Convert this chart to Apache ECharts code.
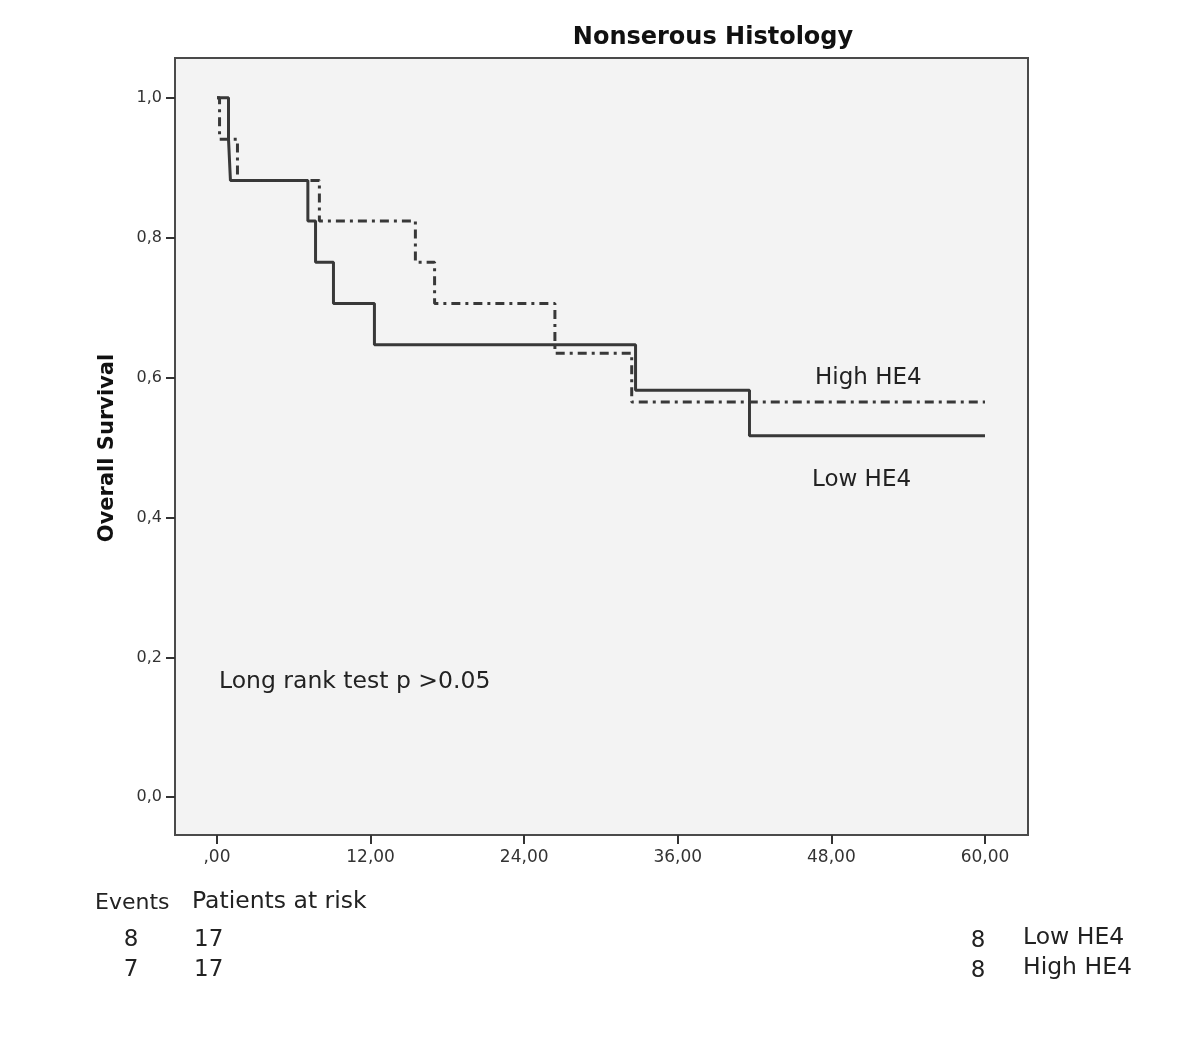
<!DOCTYPE html>
<html>
<head>
<meta charset="utf-8">
<script src="https://cdn.jsdelivr.net/npm/echarts@6.0.0/dist/echarts.min.js"></script>
<style>html,body{margin:0;padding:0;background:#fff;}#c{width:1200px;height:1041px;}</style>
</head>
<body>
<div id="c"></div>
<script>
// ---- data ----
const title = 'Nonserous Histology';
const yAxisName = 'Overall Survival';
const xTicks = [0, 12, 24, 36, 48, 60];
const xTickLabels = [',00', '12,00', '24,00', '36,00', '48,00', '60,00'];
const yTicks = [0, 0.2, 0.4, 0.6, 0.8, 1.0];
const yTickLabels = ['0,0', '0,2', '0,4', '0,6', '0,8', '1,0'];
const groups = ['Low HE4', 'High HE4'];
// [month, survival] after each event
const lowHE4 = [[0,1],[0.9,0.941],[1.05,0.882],[7.1,0.824],[7.7,0.765],[9.1,0.706],[12.3,0.647],[32.7,0.582],[41.6,0.517],[60,0.517]];
const highHE4 = [[0,1],[0.2,0.941],[1.6,0.882],[8.0,0.824],[15.5,0.765],[17.0,0.706],[26.4,0.635],[32.4,0.565],[60,0.565]];
const events = [8, 7];
const atRisk = [17, 17];
const censored = [8, 8];
const pText = 'Long rank test p >0.05';

const FONT = 'DejaVu Sans';
const chart = echarts.init(document.getElementById('c'), null, {renderer: 'canvas'});

function lookup(ticks, labels, v) {
  for (let i = 0; i < ticks.length; i++) if (Math.abs(ticks[i] - v) < 1e-6) return labels[i];
  return '';
}

function T(x, y, text, size, extra) {
  return {type: 'text', x: x, y: y, style: Object.assign({text: text, fontFamily: FONT, fontSize: size, fill: '#222', verticalAlign: 'middle'}, extra || {})};
}

const graphics = [
  T(713, 38, title, 24, {fontWeight: 'bold', fill: '#111', align: 'center'}),
  Object.assign(T(108, 448, yAxisName, 21, {fontWeight: 'bold', fill: '#111', align: 'center'}), {rotation: Math.PI / 2}),
  T(815, 378, groups[1], 23),
  T(812, 480, groups[0], 23),
  T(219, 682, pText, 23.5),
  T(95, 903, 'Events', 22),
  T(192, 902, 'Patients at risk', 23.5)
];
const rowY = [940, 970];
for (let i = 0; i < 2; i++) {
  graphics.push(T(131, rowY[i], String(events[i]), 23, {align: 'center'}));
  graphics.push(T(194, rowY[i], String(atRisk[i]), 23));
  graphics.push(T(978, rowY[i] + 1, String(censored[i]), 23, {align: 'center'}));
  graphics.push(T(1023, rowY[i] - 2, groups[i], 23.5));
}

chart.setOption({
  animation: false,
  backgroundColor: '#ffffff',
  grid: {left: 175, right: 172, top: 58, bottom: 206, show: true, backgroundColor: '#f3f3f3', borderColor: '#4a4a4a', borderWidth: 2, containLabel: false},
  xAxis: {
    type: 'value', min: -3.28, max: 63.36,
    splitLine: {show: false},
    axisLine: {show: false, onZero: false},
    axisTick: {show: true, length: 9, lineStyle: {color: '#333', width: 2}, customValues: xTicks},
    axisLabel: {customValues: xTicks, margin: 14, fontFamily: FONT, fontSize: 17, color: '#333',
      formatter: v => lookup(xTicks, xTickLabels, v)}
  },
  yAxis: {
    type: 'value', min: -0.054, max: 1.057,
    splitLine: {show: false},
    axisLine: {show: false, onZero: false},
    axisTick: {show: true, length: 9, lineStyle: {color: '#333', width: 2}, customValues: yTicks},
    axisLabel: {customValues: yTicks, margin: 13, fontFamily: FONT, fontSize: 16, color: '#333',
      formatter: v => lookup(yTicks, yTickLabels, v)}
  },
  series: [
    {name: groups[0], type: 'line', step: 'end', data: lowHE4, symbol: 'none', z: 3,
      lineStyle: {color: '#383838', width: 3, type: 'solid'}},
    {name: groups[1], type: 'line', step: 'end', data: highHE4, symbol: 'none', z: 4,
      lineStyle: {color: '#383838', width: 3, type: [9, 5, 3, 5]}}
  ],
  graphic: graphics
});
</script>
</body>
</html>
